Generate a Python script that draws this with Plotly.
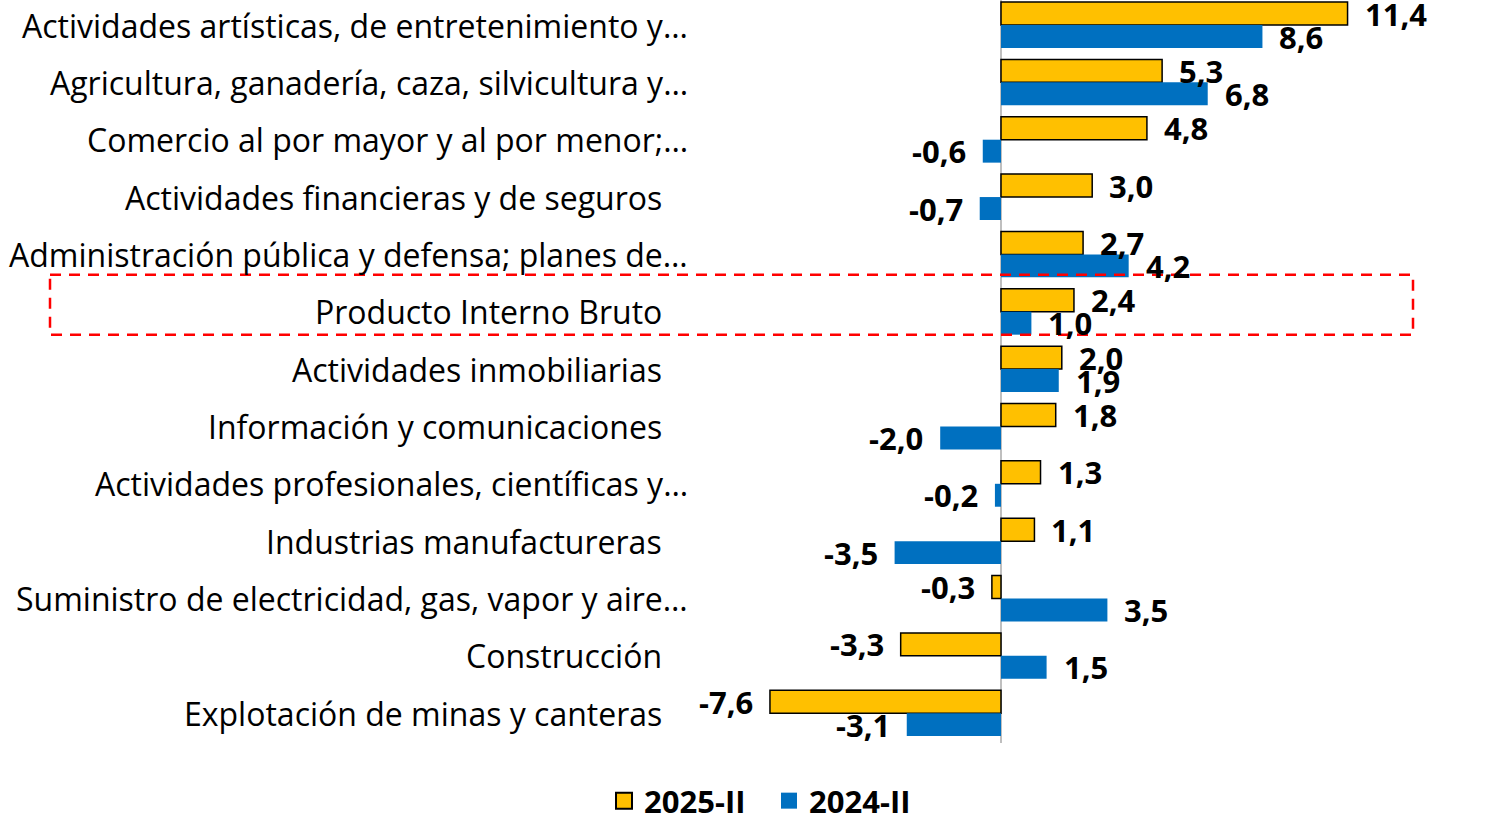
import plotly.graph_objects as go

categories = [
    "Actividades artísticas, de entretenimiento y…",
    "Agricultura, ganadería, caza, silvicultura y…",
    "Comercio al por mayor y al por menor;…",
    "Actividades financieras y de seguros",
    "Administración pública y defensa; planes de…",
    "Producto Interno Bruto",
    "Actividades inmobiliarias",
    "Información y comunicaciones",
    "Actividades profesionales, científicas y…",
    "Industrias manufactureras",
    "Suministro de electricidad, gas, vapor y aire…",
    "Construcción",
    "Explotación de minas y canteras",
]
series_names = ["2025-II", "2024-II"]
values_2025 = [11.4, 5.3, 4.8, 3.0, 2.7, 2.4, 2.0, 1.8, 1.3, 1.1, -0.3, -3.3, -7.6]
values_2024 = [8.6, 6.8, -0.6, -0.7, 4.2, 1.0, 1.9, -2.0, -0.2, -3.5, 3.5, 1.5, -3.1]
highlight = "Producto Interno Bruto"

YELLOW = "#FFC000"
BLUE = "#0070C0"
FONT = "Open Sans"

W, H = 1501, 813
L, R, T, B = 697, 44, 0, 70
plot_w = W - L - R
plot_h = H - T - B

def px_to_paper_x(px):
    return (px - L) / plot_w

def px_to_paper_y(py):
    return 1 - (py - T) / plot_h

fig = go.Figure()
fig.add_trace(go.Bar(
    y=categories, x=values_2025, orientation="h", name=series_names[0],
    marker=dict(color=YELLOW, line=dict(color="black", width=1.5)),
    showlegend=False, hoverinfo="x+y",
))
fig.add_trace(go.Bar(
    y=categories, x=values_2024, orientation="h", name=series_names[1],
    marker=dict(color=BLUE, line=dict(width=0)),
    showlegend=False, hoverinfo="x+y",
))
# legend entries
fig.add_trace(go.Scatter(
    x=[None], y=[None], mode="markers", name=series_names[0],
    marker=dict(symbol="square", size=16, color=YELLOW, line=dict(color="black", width=2)),
))
fig.add_trace(go.Scatter(
    x=[None], y=[None], mode="markers", name=series_names[1],
    marker=dict(symbol="square", size=16, color=BLUE, line=dict(width=0)),
))

annotations = []
def fmt(v):
    return f"{v:.1f}".replace(".", ",")

for vals, ysh in ((values_2025, 11.5), (values_2024, -11.5)):
    for c, v in zip(categories, vals):
        annotations.append(dict(
            x=v, y=c, xref="x", yref="y", text=fmt(v), showarrow=False,
            xanchor="left" if v >= 0 else "right",
            xshift=15 if v >= 0 else -15, yshift=ysh,
            font=dict(family=FONT, size=31, color="black", weight="bold"),
        ))

for c in categories:
    right_px = 690 if c.endswith("…") else 664
    annotations.append(dict(
        x=px_to_paper_x(right_px), y=c, xref="paper", yref="y", text=c,
        showarrow=False, xanchor="right", yanchor="middle",
        font=dict(family=FONT, size=32, color="black"),
    ))

hi = categories.index(highlight)
shapes = [dict(
    type="rect", xref="paper", yref="y",
    x0=px_to_paper_x(50), x1=px_to_paper_x(1413),
    y0=hi - 37 / 57.35, y1=hi + 23 / 57.35,
    line=dict(color="#FF0000", width=2.5, dash="11px,8px"),
    fillcolor="rgba(0,0,0,0)",
)]

fig.update_layout(
    width=W, height=H,
    margin=dict(l=L, r=R, t=T, b=B, autoexpand=False),
    paper_bgcolor="white", plot_bgcolor="white",
    barmode="group", bargap=0.2, bargroupgap=0,
    font=dict(family=FONT, color="black"),
    xaxis=dict(range=[-10, 15], showticklabels=False, showgrid=False,
               zeroline=True, zerolinecolor="#BFBFBF", zerolinewidth=1.5,
               fixedrange=True),
    yaxis=dict(categoryorder="array", categoryarray=categories,
               range=[12.52, -0.436], showticklabels=False, showgrid=False,
               zeroline=False, fixedrange=True),
    legend=dict(orientation="h", x=px_to_paper_x(769), xanchor="center",
                y=px_to_paper_y(801), yanchor="middle",
                font=dict(family=FONT, size=31, color="black", weight="bold"),
                itemwidth=30, entrywidth=120, bgcolor="rgba(0,0,0,0)"),
    annotations=annotations,
    shapes=shapes,
    showlegend=True,
)

fig.write_html(
    "out.html",
    config={"displayModeBar": False},
    post_script="document.body.style.margin='0';document.body.style.overflow='hidden';",
)
